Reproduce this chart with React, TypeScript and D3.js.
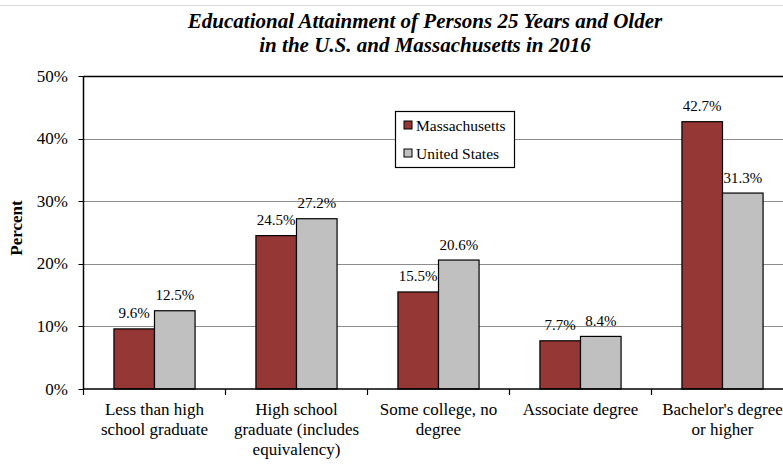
import React from "react";
import * as d3 from "d3";

const categories = [
  "Less than high school graduate",
  "High school graduate (includes equivalency)",
  "Some college, no degree",
  "Associate degree",
  "Bachelor's degree or higher",
];
const categoryLines = [
  ["Less than high", "school graduate"],
  ["High school", "graduate (includes", "equivalency)"],
  ["Some college, no", "degree"],
  ["Associate degree"],
  ["Bachelor's degree", "or higher"],
];
const seriesNames = ["Massachusetts", "United States"];
const massachusetts = [9.6, 24.5, 15.5, 7.7, 42.7];
const unitedStates = [12.5, 27.2, 20.6, 8.4, 31.3];
const yTicks = [0, 10, 20, 30, 40, 50];
const titleLines = [
  "Educational Attainment of Persons 25 Years and Older",
  "in the U.S. and Massachusetts in 2016",
];
const colors = ["#953735", "#C0C0C0"];

const W = 783;
const H = 472;
const left = 83.5;
const catW = 142;
const top = 76;
const bottom = 389;
const right = left + catW * categories.length;

export default function App() {
  const x = d3.scaleBand<string>().domain(categories).range([left, right]).paddingInner(0).paddingOuter(0);
  const inner = d3.scaleBand<number>().domain([0, 1]).range([0, x.bandwidth()]).paddingOuter(0.75).paddingInner(0);
  const y = d3.scaleLinear().domain([0, 50]).range([bottom, top]);
  const series = [massachusetts, unitedStates];
  const font = "'Liberation Serif', 'Times New Roman', serif";

  return (
    <svg width={W} height={H} style={{ position: "absolute", left: 0, top: 0, background: "#fff" }} fontFamily={font}>
      <line x1={0} x2={W} y1={5.5} y2={5.5} stroke="#d9d9d9" />
      {titleLines.map((t, i) => (
        <text key={i} x={425} y={28 + i * 24} textAnchor="middle" fontSize={21} fontWeight="bold" fontStyle="italic">
          {t}
        </text>
      ))}
      {/* gridlines */}
      {yTicks.filter((t) => t > 0 && t < 50).map((t) => (
        <line key={t} x1={left} x2={W} y1={Math.round(y(t)) + 0.5} y2={Math.round(y(t)) + 0.5} stroke="#8c8c8c" strokeWidth={1} />
      ))}
      <line x1={left} x2={W} y1={Math.round(y(50)) + 0.5} y2={Math.round(y(50)) + 0.5} stroke="#000" strokeWidth={1.5} />
      {/* bars */}
      {series.map((vals, si) =>
        vals.map((v, ci) => {
          const bx = (x(categories[ci]) as number) + (inner(si) as number);
          return (
            <rect key={`${si}-${ci}`} x={bx} y={y(v)} width={inner.bandwidth()} height={y(0) - y(v)} fill={colors[si]} stroke="#000" strokeWidth={1.2} />
          );
        })
      )}
      {/* value labels */}
      {series.map((vals, si) =>
        vals.map((v, ci) => {
          const bx = (x(categories[ci]) as number) + (inner(si) as number) + inner.bandwidth() / 2;
          return (
            <text key={`l${si}-${ci}`} x={bx} y={y(v) - 10.5} textAnchor="middle" fontSize={15}>
              {v.toFixed(1)}%
            </text>
          );
        })
      )}
      {/* y axis */}
      <line x1={left} x2={left} y1={top} y2={bottom} stroke="#000" strokeWidth={1.5} />
      {yTicks.map((t) => (
        <g key={t}>
          <line x1={left - 5} x2={left} y1={Math.round(y(t)) + 0.5} y2={Math.round(y(t)) + 0.5} stroke="#000" />
          <text x={68} y={y(t) + 5.5} textAnchor="end" fontSize={17}>
            {t}%
          </text>
        </g>
      ))}
      {/* x axis */}
      <line x1={left} x2={W} y1={bottom} y2={bottom} stroke="#000" strokeWidth={1.5} />
      {categories.map((c) => (
        <line key={c} x1={(x(c) as number)} x2={(x(c) as number)} y1={bottom} y2={bottom + 6} stroke="#000" strokeWidth={1.2} />
      ))}
      {categories.map((c, i) => (
        <text key={`c${i}`} textAnchor="middle" fontSize={17}>
          {categoryLines[i].map((ln, j) => (
            <tspan key={j} x={(x(c) as number) + x.bandwidth() / 2} y={415 + j * 20}>
              {ln}
            </tspan>
          ))}
        </text>
      ))}
      {/* y title */}
      <text transform={`translate(21.5,228) rotate(-90)`} textAnchor="middle" fontSize={17} fontWeight="bold">
        Percent
      </text>
      {/* legend */}
      <rect x={395.5} y={111.5} width={119} height={56} fill="#fff" stroke="#000" strokeWidth={1.2} />
      {seriesNames.map((s, i) => (
        <g key={s}>
          <rect x={404} y={121 + i * 28} width={8} height={8} fill={colors[i]} stroke="#000" />
          <text x={416} y={131 + i * 28} fontSize={15.5}>
            {s}
          </text>
        </g>
      ))}
    </svg>
  );
}
